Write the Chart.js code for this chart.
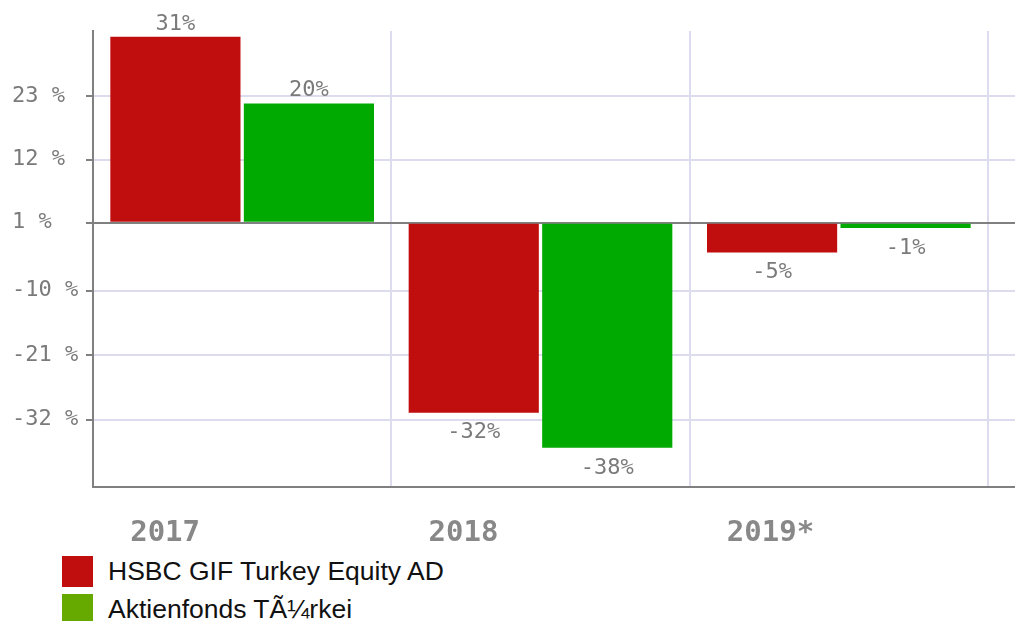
<!DOCTYPE html>
<html>
<head>
<meta charset="utf-8">
<script src="https://cdn.jsdelivr.net/npm/chart.js@4.4.1/dist/chart.umd.min.js"></script>
<style>
    body { margin: 0; background: #fff; width: 1015px; height: 621px; overflow: hidden; position: relative; }
    #wrap { position: absolute; left: 0; top: 0; width: 1015px; height: 552px; }
    #legend { position: absolute; left: 62px; top: 556px; font-family: "Liberation Sans", Arial, sans-serif; font-size: 26.5px; color: #111; }
    .item { display: flex; align-items: center; height: 31px; margin-bottom: 7px; }
    .box { width: 31px; height: 31px; margin-right: 15px; }
</style>
</head>
<body>
<div id="wrap"><canvas id="chart"></canvas></div>
<div id="legend"></div>
<script>
const years = ["2017", "2018", "2019*"];
const seriesNames = ["HSBC GIF Turkey Equity AD", "Aktienfonds TÃ¼rkei"];
const hsbcValues = [31.8, -32.5, -5.1];
const turkeyValues = [20.4, -38.5, -0.9];
const hsbcLabels = ["31%", "-32%", "-5%"];
const turkeyLabels = ["20%", "-38%", "-1%"];
const yTickValues = [-33.7, -22.6, -11.6, 0, 10.8, 21.7];
const yTickLabels = ["-32 %", "-21 %", "-10 %", "1 %", "12 %", "23 %"];

const barColors = ["#c00d0d", "#00aa00"];
const legendColors = ["#c00d0d", "#66aa00"];

const legendDiv = document.querySelector("#legend");
seriesNames.forEach((name, i) => {
    const item = document.createElement("div");
    item.className = "item";
    const box = document.createElement("div");
    box.className = "box";
    box.style.background = legendColors[i];
    const txt = document.createElement("span");
    txt.textContent = name;
    item.appendChild(box);
    item.appendChild(txt);
    legendDiv.appendChild(item);
});

// value text above / below each bar
const valueLabelPlugin = {
    id: "valueLabels",
    afterDatasetsDraw(chart) {
        const ctx = chart.ctx;
        const texts = [hsbcLabels, turkeyLabels];
        ctx.save();
        ctx.font = "22px 'DejaVu Sans Mono', monospace";
        ctx.fillStyle = "#7a7a7a";
        ctx.textAlign = "center";
        ctx.textBaseline = "middle";
        chart.data.datasets.forEach((ds, d) => {
            chart.getDatasetMeta(d).data.forEach((bar, i) => {
                const v = ds.data[i];
                const y = v >= 0 ? bar.y - 13 : bar.y + 20;
                ctx.fillText(texts[d][i], bar.x, y);
            });
        });
        ctx.restore();
    }
};

// horizontal lines keep going past the last column line
const extendGridPlugin = {
    id: "extendGrid",
    beforeDatasetsDraw(chart) {
        const ctx = chart.ctx;
        const y = chart.scales.y;
        const area = chart.chartArea;
        ctx.save();
        yTickValues.forEach(v => {
            const py = Math.round(y.getPixelForValue(v));
            ctx.strokeStyle = v === 0 ? "#808080" : "#dcdcee";
            ctx.lineWidth = 2;
            ctx.beginPath();
            ctx.moveTo(area.right, py);
            ctx.lineTo(chart.width, py);
            ctx.stroke();
        });
        ctx.strokeStyle = "#808080";
        ctx.beginPath();
        ctx.moveTo(area.right, area.bottom);
        ctx.lineTo(chart.width, area.bottom);
        ctx.stroke();
        ctx.restore();
    }
};

new Chart(document.getElementById("chart").getContext("2d"), {
    type: "bar",
    data: {
        labels: years,
        datasets: [
            { label: seriesNames[0], data: hsbcValues, backgroundColor: barColors[0] },
            { label: seriesNames[1], data: turkeyValues, backgroundColor: barColors[1] }
        ]
    },
    options: {
        responsive: true,
        maintainAspectRatio: false,
        animation: false,
        categoryPercentage: 0.895,
        barPercentage: 0.975,
        layout: { padding: { top: 31, right: 27, left: 12, bottom: 0 } },
        plugins: {
            legend: { display: false },
            tooltip: { enabled: false }
        },
        scales: {
            x: {
                offset: true,
                afterFit: (scale) => { scale.height = 65; },
                grid: { color: "#dcdcee", lineWidth: 2, drawTicks: false, offset: true },
                border: { color: "#808080", width: 2 },
                ticks: {
                    align: "start",
                    labelOffset: -112,
                    padding: 29,
                    color: "#888",
                    font: { family: "'DejaVu Sans Mono', monospace", size: 29, weight: "bold" }
                }
            },
            y: {
                min: -45.2,
                max: 32.8,
                afterFit: (scale) => { scale.width = 81; },
                afterBuildTicks: (scale) => {
                    scale.ticks = yTickValues.map(v => ({ value: v }));
                },
                grid: {
                    color: (c) => c.tick && c.tick.value === 0 ? "#808080" : "#dcdcee",
                    lineWidth: 2,
                    tickLength: 7,
                    tickColor: "#808080"
                },
                border: { color: "#808080", width: 2 },
                ticks: {
                    crossAlign: "far",
                    color: "#7a7a7a",
                    font: { family: "'DejaVu Sans Mono', monospace", size: 22 },
                    callback: (value) => yTickLabels[yTickValues.indexOf(value)]
                }
            }
        }
    },
    plugins: [valueLabelPlugin, extendGridPlugin]
});
</script>
</body>
</html>
